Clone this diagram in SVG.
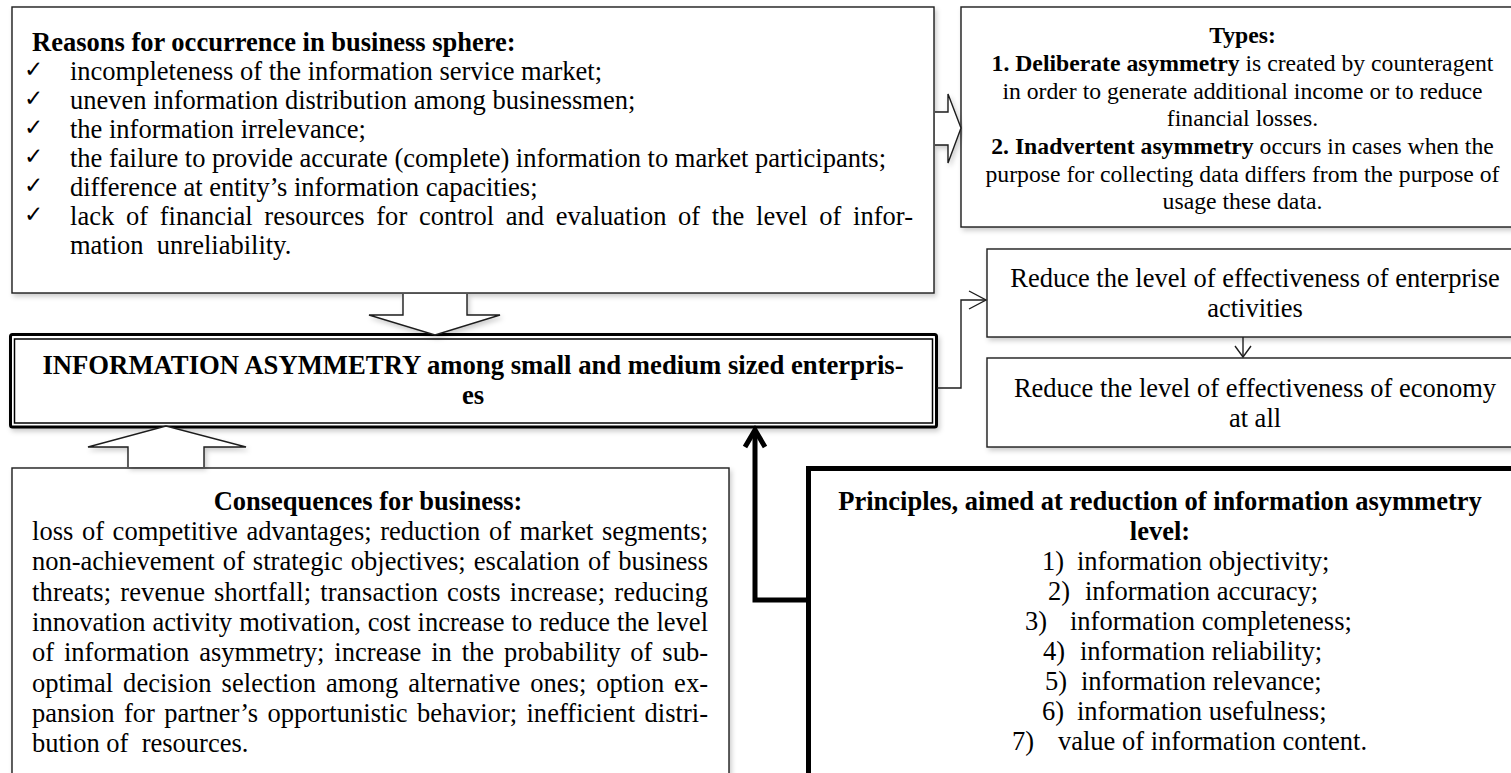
<svg xmlns="http://www.w3.org/2000/svg" width="1511" height="773" viewBox="0 0 1511 773">
<defs>
<filter id="sh" x="-5%" y="-5%" width="112%" height="125%">
<feDropShadow dx="2" dy="3" stdDeviation="2.5" flood-color="#000" flood-opacity="0.2"/>
</filter>
<style>
.box{fill:#fff;stroke:#1e1e1e;stroke-width:1.4}
.thick{fill:#fff;stroke:#000;stroke-width:5}
.t{font-family:"Liberation Serif","Times New Roman",serif;font-size:26.5px;fill:#000}
.s{font-size:23.7px}
.b{font-weight:bold}
.c{text-anchor:middle}
.ck{font-family:"DejaVu Sans",sans-serif;font-size:23px;fill:#000}
.pre{white-space:pre}
.blk{fill:#fff;stroke:#1e1e1e;stroke-width:1.4;stroke-linejoin:miter}
.ln{fill:none;stroke:#1e1e1e;stroke-width:1.4}
.tk{fill:none;stroke:#000;stroke-width:5}
</style>
</defs>
<rect width="1511" height="773" fill="#fff"/>

<g id="reasons">
<rect class="box" x="12" y="7" width="922" height="286" filter="url(#sh)"/>
<text class="t b" x="32" y="51">Reasons for occurrence in business sphere:</text>
<text class="ck" x="24" y="77">✓</text>
<text class="ck" x="24" y="106">✓</text>
<text class="ck" x="24" y="135">✓</text>
<text class="ck" x="24" y="164">✓</text>
<text class="ck" x="24" y="193">✓</text>
<text class="ck" x="24" y="222">✓</text>
<text class="t" x="70" y="80">incompleteness of the information service market;</text>
<text class="t" x="70" y="109">uneven information distribution among businessmen;</text>
<text class="t" x="70" y="138">the information irrelevance;</text>
<text class="t" x="70" y="167">the failure to provide accurate (complete) information to market participants;</text>
<text class="t" x="70" y="196">difference at entity’s information capacities;</text>
<text class="t" x="70" y="225" word-spacing="5" textLength="843" lengthAdjust="spacing">lack of financial resources for control and evaluation of the level of infor-</text>
<text class="t pre" x="70" y="254">mation  unreliability.</text>
</g>

<g id="types">
<rect class="box" x="961" y="7" width="570" height="220" filter="url(#sh)"/>
<text class="t s b c" x="1242.5" y="43">Types:</text>
<text class="t s c" x="1242.5" y="71"><tspan class="b">1. Deliberate asymmetry</tspan> is created by counteragent</text>
<text class="t s c" x="1242.5" y="98.5">in order to generate additional income or to reduce</text>
<text class="t s c" x="1242.5" y="126">financial losses.</text>
<text class="t s c" x="1242.5" y="154"><tspan class="b">2. Inadvertent asymmetry</tspan> occurs in cases when the</text>
<text class="t s c" x="1242.5" y="181.5">purpose for collecting data differs from the purpose of</text>
<text class="t s c" x="1242.5" y="209">usage these data.</text>
</g>

<g id="reduce-enterprise">
<rect class="box" x="987" y="249" width="540" height="88" filter="url(#sh)"/>
<text class="t c" x="1255" y="287">Reduce the level of effectiveness of enterprise</text>
<text class="t c" x="1255" y="317">activities</text>
</g>

<g id="reduce-economy">
<rect class="box" x="987" y="358" width="540" height="89" filter="url(#sh)"/>
<text class="t c" x="1255" y="397">Reduce the level of effectiveness of economy</text>
<text class="t c" x="1255" y="427">at all</text>
</g>

<g id="information-asymmetry">
<rect x="10.5" y="334.5" width="926" height="92.5" rx="2" fill="#fff" stroke="#000" stroke-width="3" filter="url(#sh)"/>
<rect x="14.5" y="339" width="918" height="84" fill="none" stroke="#000" stroke-width="1.5"/>
<text class="t b c" x="473" y="374" style="font-size:26.7px">INFORMATION ASYMMETRY among small and medium sized enterpris-</text>
<text class="t b c" x="473" y="404" style="font-size:26.7px">es</text>
</g>

<g id="consequences">
<rect class="box" x="12" y="468" width="717" height="330" filter="url(#sh)"/>
<text class="t b c" x="368" y="510">Consequences for business:</text>
<text class="t" x="32" y="540" word-spacing="2" textLength="676" lengthAdjust="spacing">loss of competitive advantages; reduction of market segments;</text>
<text class="t" x="32" y="570" word-spacing="1.5" textLength="676" lengthAdjust="spacing">non-achievement of strategic objectives; escalation of business</text>
<text class="t" x="32" y="601" word-spacing="2.2" textLength="676" lengthAdjust="spacing">threats; revenue shortfall; transaction costs increase; reducing</text>
<text class="t" x="32" y="631" word-spacing="0.4" textLength="676" lengthAdjust="spacing">innovation activity motivation, cost increase to reduce the level</text>
<text class="t" x="32" y="661" word-spacing="3.2" textLength="676" lengthAdjust="spacing">of information asymmetry; increase in the probability of sub-</text>
<text class="t" x="32" y="692" word-spacing="3.3" textLength="676" lengthAdjust="spacing">optimal decision selection among alternative ones; option ex-</text>
<text class="t" x="32" y="722" word-spacing="2.6" textLength="676" lengthAdjust="spacing">pansion for partner’s opportunistic behavior; inefficient distri-</text>
<text class="t pre" x="32" y="752">bution of  resources.</text>
</g>

<g id="principles">
<rect class="thick" x="808.5" y="468.5" width="740" height="340"/>
<text class="t b c" x="1160" y="510">Principles, aimed at reduction of information asymmetry</text>
<text class="t b c" x="1160" y="540">level:</text>
<text class="t" y="570"><tspan x="1042">1)</tspan><tspan x="1077">information objectivity;</tspan></text>
<text class="t" y="600"><tspan x="1048">2)</tspan><tspan x="1085">information accuracy;</tspan></text>
<text class="t" y="630"><tspan x="1025">3)</tspan><tspan x="1070">information completeness;</tspan></text>
<text class="t" y="660"><tspan x="1043">4)</tspan><tspan x="1080">information reliability;</tspan></text>
<text class="t" y="690"><tspan x="1045">5)</tspan><tspan x="1081">information relevance;</tspan></text>
<text class="t" y="720"><tspan x="1042">6)</tspan><tspan x="1077">information usefulness;</tspan></text>
<text class="t" y="750"><tspan x="1012">7)</tspan><tspan x="1058">value of information content.</tspan></text>
</g>

<g id="connectors">
<path class="blk" d="M935,112 H948 V94 L961,128 L948,163 V145 H935" filter="url(#sh)"/>
<path class="blk" d="M403,294 V315 H369 L435,335 L500,315 H467 V294" filter="url(#sh)"/>
<path class="blk" d="M128,467 V447 H88 L166,426 L246,447 H204 V467" filter="url(#sh)"/>
<path class="ln" d="M937,388 H961 V300 H985"/>
<path class="ln" d="M969,291 L986,300 L969,309"/>
<path class="ln" d="M1243,337 V357"/>
<path class="ln" d="M1235,346 L1243,357 L1251,346"/>
<path class="tk" d="M806,600 H755 V432"/>
<path class="tk" d="M745,447 L755,430 L765,447"/>
</g>
</svg>
